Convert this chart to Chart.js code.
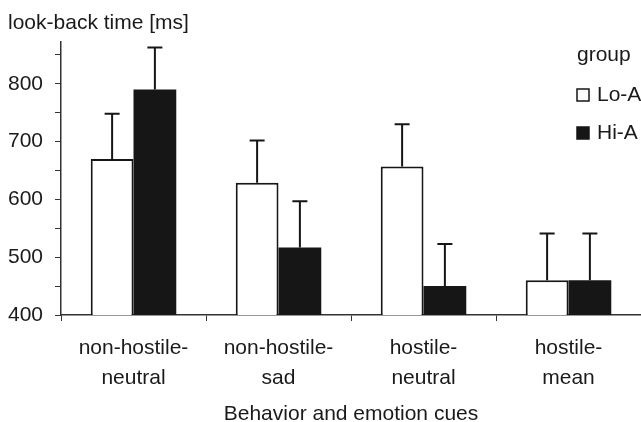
<!DOCTYPE html>
<html>
<head>
<meta charset="utf-8">
<script src="https://cdn.jsdelivr.net/npm/chart.js@4"></script>
<style>
  html, body { margin: 0; padding: 0; background: #fff; }
  #wrap { width: 641px; height: 422px; }
</style>
</head>
<body>
<div id="wrap"><canvas id="grafico"></canvas></div>
<script>
var categorias = [
  ["non-hostile-", "neutral"],
  ["non-hostile-", "sad"],
  ["hostile-", "neutral"],
  ["hostile-", "mean"]
];
var grupos = ["Lo-A", "Hi-A"];
var loA = [670, 629, 657, 460];
var hiA = [790, 517, 450, 460];
// upper end of the error bars
var loA_erro = [748, 702, 730, 541];
var hiA_erro = [863, 597, 523, 541];
var yTicks = [400, 450, 500, 550, 600, 650, 700, 750, 800, 850];

var fonte = "'Liberation Sans', Arial, sans-serif";
var preto = "#161616";

var barrasErro = {
  id: "barrasErro",
  afterDatasetsDraw: function (chart) {
    var ctx = chart.ctx;
    var escalaY = chart.scales.y;
    var topos = [loA_erro, hiA_erro];
    ctx.save();
    ctx.strokeStyle = preto;
    ctx.lineWidth = 2;
    chart.data.datasets.forEach(function (ds, i) {
      chart.getDatasetMeta(i).data.forEach(function (barra, j) {
        var yTopo = escalaY.getPixelForValue(topos[i][j]);
        ctx.beginPath();
        ctx.moveTo(barra.x, barra.y);
        ctx.lineTo(barra.x, yTopo);
        ctx.moveTo(barra.x - 7.5, yTopo);
        ctx.lineTo(barra.x + 7.5, yTopo);
        ctx.stroke();
      });
    });
    ctx.restore();
  }
};

var legendaGrupo = {
  id: "legendaGrupo",
  afterDraw: function (chart) {
    var ctx = chart.ctx;
    ctx.save();
    ctx.font = "21px " + fonte;
    ctx.fillStyle = "#1a1a1a";
    ctx.textBaseline = "middle";
    ctx.textAlign = "left";
    ctx.fillText("group", 577, 55);
    chart.data.datasets.forEach(function (ds, i) {
      var y = 95 + i * 38;
      ctx.fillStyle = ds.backgroundColor;
      ctx.fillRect(577, y - 6, 12, 12);
      ctx.strokeStyle = preto;
      ctx.lineWidth = 1.5;
      ctx.strokeRect(577, y - 6, 12, 12);
      ctx.fillStyle = "#1a1a1a";
      ctx.fillText(ds.label, 597, y);
    });
    ctx.restore();
  }
};

const configBarras = {
  type: "bar",
  data: {
    labels: categorias,
    datasets: [
      {
        label: grupos[0],
        data: loA,
        backgroundColor: "#ffffff",
        borderColor: preto,
        borderWidth: 2
      },
      {
        label: grupos[1],
        data: hiA,
        backgroundColor: preto,
        borderColor: preto,
        borderWidth: 0
      }
    ]
  },
  options: {
    responsive: true,
    maintainAspectRatio: false,
    animation: false,
    categoryPercentage: 0.59,
    barPercentage: 1,
    layout: { padding: { left: 8, right: 0, top: 0, bottom: 0 } },
    plugins: {
      legend: { display: false },
      tooltip: { enabled: false },
      title: {
        display: true,
        text: "look-back time [ms]",
        align: "start",
        color: "#1a1a1a",
        font: { family: fonte, size: 21, weight: "normal", lineHeight: 1.2 },
        padding: { top: 11, bottom: 6 }
      }
    },
    scales: {
      x: {
        afterFit: function (escala) {
          escala.height = 107;
        },
        grid: {
          display: true,
          drawOnChartArea: false,
          drawTicks: true,
          tickLength: 6,
          color: "#333"
        },
        border: { display: true, color: "#333", width: 1.5 },
        ticks: {
          color: "#1a1a1a",
          padding: 13,
          maxRotation: 0,
          font: { family: fonte, size: 21, lineHeight: 1.4 }
        },
        title: {
          display: true,
          text: "Behavior and emotion cues",
          color: "#1a1a1a",
          font: { family: fonte, size: 21, lineHeight: 1 },
          padding: { top: 0, bottom: -3 }
        }
      },
      y: {
        min: 400,
        max: 872,
        afterFit: function (escala) {
          escala.width = 53;
        },
        afterBuildTicks: function (escala) {
          escala.ticks = yTicks.map(function (v) { return { value: v }; });
        },
        grid: {
          display: true,
          drawOnChartArea: false,
          drawTicks: true,
          tickLength: 6,
          color: "#333"
        },
        border: { display: true, color: "#333", width: 1.5 },
        ticks: {
          color: "#1a1a1a",
          padding: 12,
          font: { family: fonte, size: 21 },
          callback: function (valor) {
            return valor % 100 === 0 ? valor : "";
          }
        }
      }
    }
  },
  plugins: [barrasErro, legendaGrupo]
};

var graficoBarras = new Chart(document.getElementById("grafico"), configBarras);
</script>
</body>
</html>
